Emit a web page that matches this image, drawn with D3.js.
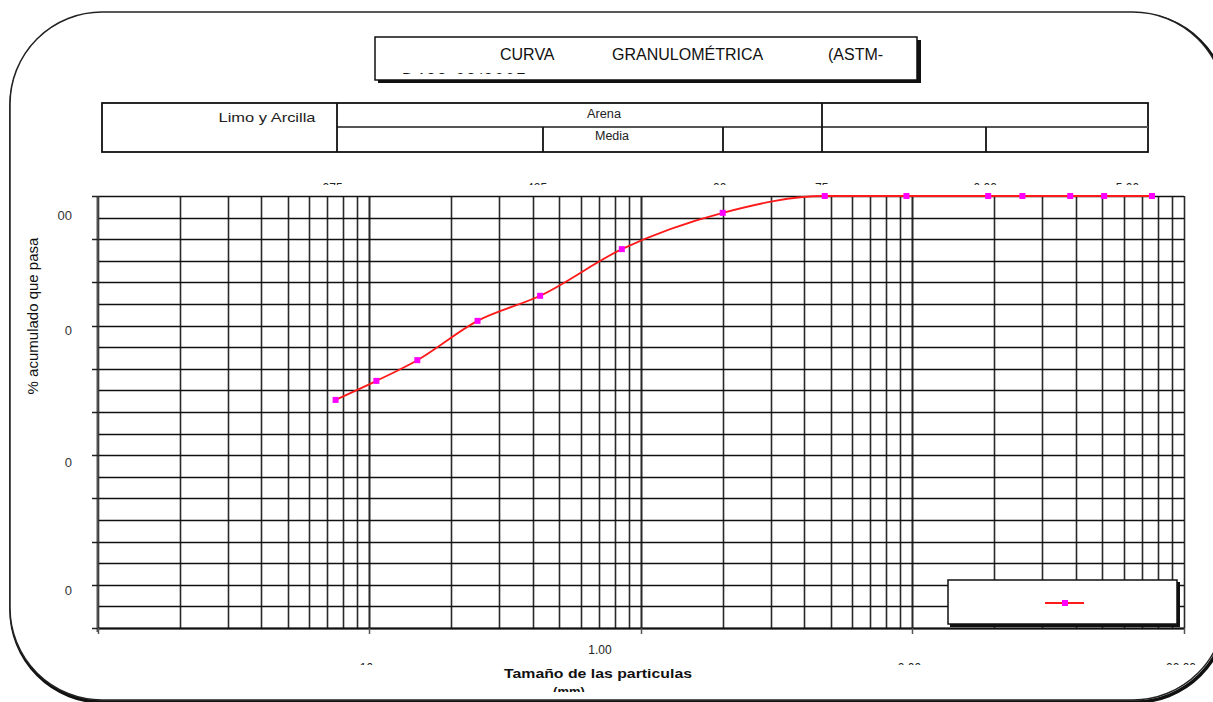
<!DOCTYPE html>
<html>
<head>
<meta charset="utf-8">
<script src="https://cdn.jsdelivr.net/npm/d3@7"></script>
<style>
  body { margin: 0; background: #fff; }
  text { font-family: "Liberation Sans", Arial, sans-serif; }
</style>
</head>
<body>
<div class="chart"></div>
<script>
// sieve openings (mm) and cumulative % passing
var sizes = [0.075, 0.106, 0.15, 0.25, 0.425, 0.85, 2.0, 4.75, 9.5, 19.0, 25.4, 38.1, 50.8, 76.2];
var passing = [52.8, 57.2, 62.0, 71.1, 76.9, 87.7, 96.1, 100, 100, 100, 100, 100, 100, 100];

// axis labels as they show in the (clipped) original
var yTickValues = [100, 70, 40, 10];
var yTickTexts = ["00", "0", "0", "0"];
var bottomValues = [0.1, 1, 10, 100];
var bottomTexts = ["10", "1.00", "0.00", "00.00"];
var topValues = [0.075, 0.425, 2.0, 4.75, 19.0, 63.5];
var topTexts = ["075", "425", "00", "75", "0.00", "5.00"];

var W = 1213, H = 702;
var svg = d3.select(".chart").append("svg")
    .attr("width", W)
    .attr("height", H);

var defs = svg.append("defs");
defs.append("clipPath").attr("id", "clipTop")
  .append("rect").attr("x", 0).attr("y", 170).attr("width", W).attr("height", 15);
defs.append("clipPath").attr("id", "clipBottom")
  .append("rect").attr("x", 0).attr("y", 650).attr("width", W).attr("height", 15);
defs.append("clipPath").attr("id", "clipTitle")
  .append("rect").attr("x", 376).attr("y", 38).attr("width", 540).attr("height", 36);
defs.append("clipPath").attr("id", "clipMm")
  .append("rect").attr("x", 0).attr("y", 670).attr("width", W).attr("height", 22);

// outer rounded frame
svg.append("rect")
    .attr("x", 11).attr("y", 14)
    .attr("width", 1216).attr("height", 688)
    .attr("rx", 92).attr("ry", 92)
    .attr("fill", "none").attr("stroke", "#111").attr("stroke-width", 3.5);
svg.append("rect")
    .attr("x", 10).attr("y", 12)
    .attr("width", 1215).attr("height", 688)
    .attr("rx", 92).attr("ry", 92)
    .attr("fill", "#fff").attr("stroke", "#222").attr("stroke-width", 1.5);

// title box with shadow
svg.append("rect").attr("x", 378).attr("y", 40).attr("width", 543).attr("height", 43).attr("fill", "#111");
svg.append("rect").attr("x", 375).attr("y", 37).attr("width", 542).attr("height", 43)
    .attr("fill", "#fff").attr("stroke", "#111").attr("stroke-width", 1.5);
var title = svg.append("text").attr("font-size", 16).attr("fill", "#111");
title.append("tspan").attr("x", 500).attr("y", 60).text("CURVA");
title.append("tspan").attr("x", 612).attr("y", 60).text("GRANULOMÉTRICA");
title.append("tspan").attr("x", 828).attr("y", 60).text("(ASTM-");
svg.append("text")
    .attr("clip-path", "url(#clipTitle)")
    .attr("x", 402).attr("y", 85)
    .attr("font-size", 16).attr("letter-spacing", 2).attr("fill", "#111")
    .text("D422-63/2007");

// soil class header table
var hdr = svg.append("g").attr("stroke", "#111").attr("stroke-width", 1.8).attr("fill", "none");
hdr.append("rect").attr("x", 102).attr("y", 103).attr("width", 1046).attr("height", 49);
hdr.append("line").attr("x1", 337).attr("x2", 1148).attr("y1", 127).attr("y2", 127).attr("stroke", "#555");
[337, 822].forEach(function(x) {
  hdr.append("line").attr("x1", x).attr("x2", x).attr("y1", 103).attr("y2", 152);
});
[543, 723, 986].forEach(function(x) {
  hdr.append("line").attr("x1", x).attr("x2", x).attr("y1", 127).attr("y2", 152);
});
svg.append("text").attr("x", 267).attr("y", 122).attr("text-anchor", "middle")
    .attr("font-size", 13).attr("textLength", 97).attr("lengthAdjust", "spacingAndGlyphs")
    .attr("fill", "#222").text("Limo y Arcilla");
svg.append("text").attr("x", 604).attr("y", 118).attr("text-anchor", "middle")
    .attr("font-size", 12).attr("textLength", 34).attr("lengthAdjust", "spacingAndGlyphs")
    .attr("fill", "#222").text("Arena");
svg.append("text").attr("x", 612).attr("y", 140).attr("text-anchor", "middle")
    .attr("font-size", 12).attr("textLength", 34).attr("lengthAdjust", "spacingAndGlyphs")
    .attr("fill", "#222").text("Media");

// plot
var pLeft = 98, pRight = 1184, pTop = 196, pBottom = 628;
var x = d3.scaleLog().domain([0.01, 100]).range([pLeft, pRight]);
var y = d3.scaleLinear().domain([0, 100]).range([pBottom, pTop]);

var grid = svg.append("g");
var minor = [];
[0.01, 0.1, 1, 10].forEach(function(dec) {
  for (var k = 1; k <= 10; k++) minor.push(dec * k);
});
grid.selectAll("line.v").data(minor).enter().append("line")
    .attr("class", "v")
    .attr("x1", function(d) { return Math.round(x(d)) + 0.5; })
    .attr("x2", function(d) { return Math.round(x(d)) + 0.5; })
    .attr("y1", pTop).attr("y2", pBottom)
    .attr("stroke", "#2a2a2a").attr("stroke-width", 1.6);
grid.selectAll("line.h").data(d3.range(0, 101, 5)).enter().append("line")
    .attr("class", "h")
    .attr("x1", pLeft).attr("x2", pRight)
    .attr("y1", function(d) { return Math.round(y(d)) + 0.5; })
    .attr("y2", function(d) { return Math.round(y(d)) + 0.5; })
    .attr("stroke", "#111").attr("stroke-width", 1.4);

// axes
svg.append("line").attr("x1", pLeft - 0.5).attr("x2", pLeft - 0.5).attr("y1", pTop).attr("y2", pBottom + 4)
    .attr("stroke", "#555").attr("stroke-width", 2);
svg.append("line").attr("x1", pLeft).attr("x2", pRight).attr("y1", pBottom + 0.5).attr("y2", pBottom + 0.5)
    .attr("stroke", "#111").attr("stroke-width", 2);
svg.selectAll("line.yt").data(d3.range(0, 101, 10)).enter().append("line")
    .attr("class", "yt")
    .attr("x1", pLeft - 6).attr("x2", pLeft)
    .attr("y1", function(d) { return Math.round(y(d)) + 0.5; })
    .attr("y2", function(d) { return Math.round(y(d)) + 0.5; })
    .attr("stroke", "#222").attr("stroke-width", 1.5);
svg.selectAll("line.xt").data([0.01, 0.1, 1, 10, 100]).enter().append("line")
    .attr("class", "xt")
    .attr("x1", function(d) { return Math.round(x(d)) + 0.5; })
    .attr("x2", function(d) { return Math.round(x(d)) + 0.5; })
    .attr("y1", pBottom).attr("y2", pBottom + 6)
    .attr("stroke", "#555").attr("stroke-width", 1.5);

var yOff = [19, 4, 7, 5];
svg.selectAll("text.yl").data(yTickValues).enter().append("text")
    .attr("class", "yl")
    .attr("x", 72)
    .attr("y", function(d, i) { return y(d) + yOff[i] + 5; })
    .attr("text-anchor", "end").attr("font-size", 13).attr("fill", "#333")
    .text(function(d, i) { return yTickTexts[i]; });

var bOff = [-3, -41, -3, -3];
svg.selectAll("text.bl").data(bottomValues).enter().append("text")
    .attr("class", "bl")
    .attr("clip-path", function(d, i) { return i === 1 ? null : "url(#clipBottom)"; })
    .attr("x", function(d, i) { return x(d) + bOff[i]; })
    .attr("y", function(d, i) { return i === 1 ? 654 : 672; })
    .attr("text-anchor", "middle").attr("font-size", 12).attr("fill", "#222")
    .text(function(d, i) { return bottomTexts[i]; });

svg.append("g").attr("clip-path", "url(#clipTop)")
  .selectAll("text").data(topValues).enter().append("text")
    .attr("x", function(d) { return x(d) - 3; })
    .attr("y", 192)
    .attr("text-anchor", "middle").attr("font-size", 12).attr("fill", "#222")
    .text(function(d, i) { return topTexts[i]; });

svg.append("text")
    .attr("transform", "translate(38,316) rotate(-90)")
    .attr("text-anchor", "middle").attr("font-size", 15).attr("fill", "#111")
    .text("% acumulado que pasa");
svg.append("text").attr("x", 598).attr("y", 678).attr("text-anchor", "middle")
    .attr("font-size", 13).attr("font-weight", "bold").attr("textLength", 188)
    .attr("lengthAdjust", "spacingAndGlyphs").attr("fill", "#111")
    .text("Tamaño de las particulas");
svg.append("text").attr("clip-path", "url(#clipMm)")
    .attr("x", 569).attr("y", 696).attr("text-anchor", "middle")
    .attr("font-size", 13).attr("font-weight", "bold").attr("fill", "#111")
    .text("(mm)");

// curve
var pts = sizes.map(function(s, i) { return [x(s), y(passing[i])]; });
var line = d3.line().curve(d3.curveMonotoneX);
svg.append("path").attr("d", line(pts))
    .attr("fill", "none").attr("stroke", "#ff1a1a").attr("stroke-width", 1.8);
svg.selectAll("rect.mk").data(pts).enter().append("rect")
    .attr("class", "mk")
    .attr("x", function(d) { return d[0] - 3; })
    .attr("y", function(d) { return d[1] - 3; })
    .attr("width", 6).attr("height", 6)
    .attr("fill", "#ff00ff");

// legend
svg.append("rect").attr("x", 950).attr("y", 582).attr("width", 230).attr("height", 45).attr("fill", "#111");
svg.append("rect").attr("x", 948).attr("y", 580).attr("width", 229).attr("height", 44)
    .attr("fill", "#fff").attr("stroke", "#111").attr("stroke-width", 1.5);
svg.append("line").attr("x1", 1045).attr("x2", 1084).attr("y1", 603).attr("y2", 603)
    .attr("stroke", "#ff1a1a").attr("stroke-width", 1.8);
svg.append("rect").attr("x", 1062).attr("y", 600).attr("width", 6).attr("height", 6).attr("fill", "#ff00ff");
</script>
</body>
</html>
